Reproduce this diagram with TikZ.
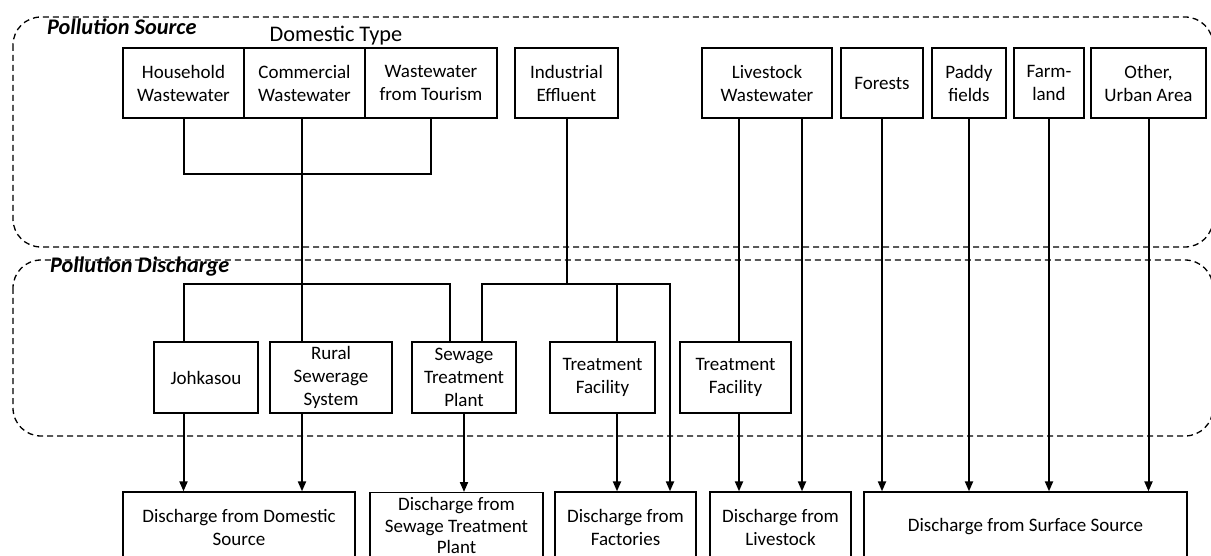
\documentclass[tikz,border=0pt]{standalone}
\usepackage{fontspec}
\setmainfont{Carlito}
\usetikzlibrary{arrows.meta}
\newcommand\bodyfont{\fontsize{19}{23}\selectfont}
\tikzset{
  box/.style={draw, line width=1.3pt, inner sep=0pt, align=center, font=\bodyfont, minimum height=70pt},
  conn/.style={line width=2pt},
  arr/.style={line width=2pt, -{Triangle[length=10pt,width=8pt]}},
  region/.style={draw, line width=1.3pt, dash pattern=on 6pt off 4pt, rounded corners=28pt},
  regionlabel/.style={font=\fontsize{22.3}{26}\selectfont\bfseries\itshape, inner sep=0pt, anchor=base west},
}
\begin{document}
\begin{tikzpicture}[x=1pt,y=-1pt]
\useasboundingbox (0,0) rectangle (1211,556);
\clip (0,0) rectangle (1211,556);
\fill[white] (0,0) rectangle (1211,556);
% regions
\draw[region] (13,17) rectangle (1213,247);
\draw[region] (13,260) rectangle (1213,436);
\node[regionlabel] (ls) at (47,35) {Pollution Source};
\node[regionlabel] (ld) at (50,273) {Pollution Discharge};
\node[font=\fontsize{22.3}{26}\selectfont, inner sep=0pt, anchor=base] (dt) at (336,42) {Domestic Type};
% top boxes
\node[box, minimum width=121pt] (hh) at (183.5,83) {Household\\Wastewater};
\node[box, minimum width=121pt] (cm) at (304.5,83) {Commercial\\Wastewater};
\node[box, minimum width=132pt] (tw) at (431,83) {Wastewater\\from Tourism};
\node[box, minimum width=103pt] (ie) at (566.5,83) {Industrial\\Effluent};
\node[box, minimum width=130pt] (lw) at (767,83) {Livestock\\Wastewater};
\node[box, minimum width=82pt] (fo) at (882,83) {Forests};
\node[box, minimum width=74pt] (pf) at (969,83) {Paddy\\fields};
\node[box, minimum width=70pt] (fl) at (1049,83) {Farm-\\land};
\node[box, minimum width=115pt] (ou) at (1148.5,83) {Other,\\Urban Area};
% middle boxes
\node[box, minimum width=104pt, minimum height=71pt] (jk) at (206,377.5) {Johkasou};
\node[box, minimum width=122pt, minimum height=71pt] (rs) at (331,377.5) {Rural\\Sewerage\\System};
\node[box, minimum width=104pt, minimum height=71pt] (stp) at (464,377.5) {Sewage\\Treatment\\Plant};
\node[box, minimum width=105pt, minimum height=71pt] (tf1) at (602.5,377.5) {Treatment\\Facility};
\node[box, minimum width=111pt, minimum height=71pt] (tf2) at (735.5,377.5) {Treatment\\Facility};
% bottom boxes
\node[box, minimum width=232pt] (bd) at (239,527) {Discharge from Domestic\\Source};
\node[box, minimum width=173pt, minimum height=66pt, anchor=north, font=\fontsize{19}{21.5}\selectfont] (bs) at (456.5,492) {Discharge from\\Sewage Treatment\\Plant};
\node[box, minimum width=141pt] (bf) at (625.5,527) {Discharge from\\Factories};
\node[box, minimum width=141pt] (bl) at (780.5,527) {Discharge from\\Livestock};
\node[box, minimum width=323pt] (bsu) at (1025.5,527) {Discharge from Surface Source};
% junction coordinates
\coordinate (dj) at (302,174);
\coordinate (dd) at (302,284);
\coordinate (xa) at (450,284);
\coordinate (il) at (482,284);
\coordinate (it) at (617,284);
\coordinate (ir) at (670,284);
\coordinate (la) at (739,0);
\coordinate (lb) at (802,0);
% domestic
\draw[conn] (hh.south) |- (dj) -| (tw.south);
\draw[conn] (cm.south -| dj) -- (rs.north -| dj);
\draw[conn] (jk.north -| hh.south) |- (dd) -- (xa) -- (xa |- stp.north);
% industrial
\draw[conn] (ie.south) -- (ie.south |- it);
\draw[arr] (il |- stp.north) -- (il) -- (ir) -- (ir |- bf.north);
\draw[conn] (it) -- (it |- tf1.north);
% discharge arrows
\draw[arr] (jk.south -| hh.south) -- (bd.north -| hh.south);
\draw[arr] (rs.south -| dd) -- (bd.north -| dd);
\draw[arr] (stp.south) -- (stp.south |- bs.north);
\draw[arr] (tf1.south -| it) -- (bf.north -| it);
% livestock
\draw[conn] (lw.south -| la) -- (tf2.north -| la);
\draw[arr] (tf2.south -| la) -- (bl.north -| la);
\draw[arr] (lw.south -| lb) -- (bl.north -| lb);
% surface
\draw[arr] (fo.south) -- (fo.south |- bsu.north);
\draw[arr] (pf.south) -- (pf.south |- bsu.north);
\draw[arr] (fl.south) -- (fl.south |- bsu.north);
\draw[arr] (ou.south) -- (ou.south |- bsu.north);
\end{tikzpicture}
\end{document}
